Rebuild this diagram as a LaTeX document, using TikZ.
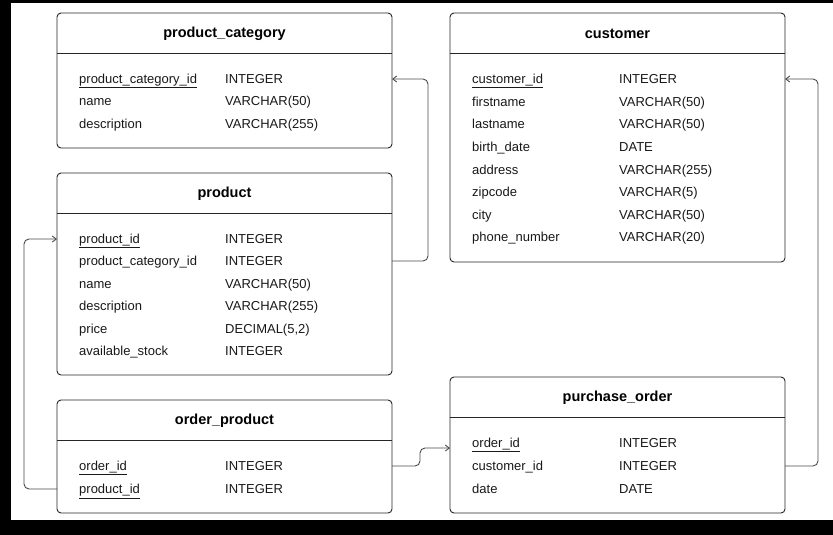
\documentclass[tikz,border=0pt]{standalone}
\usepackage{fontspec}
\setmainfont{Liberation Sans}
\usetikzlibrary{arrows.meta}
\begin{document}
\begin{tikzpicture}[x=1pt,y=-1pt,
  tbl/.style={draw=black!85,line width=0.9pt,rounded corners=4pt,fill=white},
  hdr/.style={font=\fontsize{14.5}{16}\selectfont\bfseries,text=black},
  fld/.style={font=\fontsize{13}{14}\selectfont,text=black!90,anchor=base west,inner sep=0pt,yshift=-4.6pt},
  link/.style={draw=black!70,line width=0.9pt,rounded corners=5pt,-{Straight Barb[length=4pt,width=6pt]}}]
\useasboundingbox (0,0) rectangle (833,535);
\fill[black] (0,0) rectangle (833,535);
\fill[white] (11,3) rectangle (833,520);
\newcommand\mktable[6]{% name, x1,y1,x2,y2, title
  \draw[tbl] (#2,#3) rectangle (#4,#5);
  \draw[black!85,line width=0.9pt] (#2,#3+40) -- (#4,#3+40);
  \node[hdr] (#1t) at ({(#2+#4)/2},#3+21) {#6};
}
% product_category
\mktable{pc}{57}{13}{392}{148}{product\_category}
\node[fld] (pc1) at (79,79) {\underline{product\_category\_id}};
\node[fld] (pc1t) at (225,79) {INTEGER};
\node[fld] (pc2) at (79,101) {name};
\node[fld] (pc2t) at (225,101) {VARCHAR(50)};
\node[fld] (pc3) at (79,124) {description};
\node[fld] (pc3t) at (225,124) {VARCHAR(255)};
% product
\mktable{p}{57}{173}{392}{375}{product}
\node[fld] (p1) at (79,239) {\underline{product\_id}};
\node[fld] (p1t) at (225,239) {INTEGER};
\node[fld] (p2) at (79,261) {product\_category\_id};
\node[fld] (p2t) at (225,261) {INTEGER};
\node[fld] (p3) at (79,284) {name};
\node[fld] (p3t) at (225,284) {VARCHAR(50)};
\node[fld] (p4) at (79,306) {description};
\node[fld] (p4t) at (225,306) {VARCHAR(255)};
\node[fld] (p5) at (79,329) {price};
\node[fld] (p5t) at (225,329) {DECIMAL(5,2)};
\node[fld] (p6) at (79,351) {available\_stock};
\node[fld] (p6t) at (225,351) {INTEGER};
% order_product
\mktable{op}{57}{400}{392}{513}{order\_product}
\node[fld] (op1) at (79,466) {\underline{order\_id}};
\node[fld] (op1t) at (225,466) {INTEGER};
\node[fld] (op2) at (79,489) {\underline{product\_id}};
\node[fld] (op2t) at (225,489) {INTEGER};
% customer
\mktable{c}{450}{13}{785}{262}{customer}
\node[fld] (c1) at (472,79) {\underline{customer\_id}};
\node[fld] (c1t) at (619,79) {INTEGER};
\node[fld] (c2) at (472,101.6) {firstname};
\node[fld] (c2t) at (619,101.6) {VARCHAR(50)};
\node[fld] (c3) at (472,124.2) {lastname};
\node[fld] (c3t) at (619,124.2) {VARCHAR(50)};
\node[fld] (c4) at (472,146.8) {birth\_date};
\node[fld] (c4t) at (619,146.8) {DATE};
\node[fld] (c5) at (472,169.4) {address};
\node[fld] (c5t) at (619,169.4) {VARCHAR(255)};
\node[fld] (c6) at (472,192) {zipcode};
\node[fld] (c6t) at (619,192) {VARCHAR(5)};
\node[fld] (c7) at (472,214.6) {city};
\node[fld] (c7t) at (619,214.6) {VARCHAR(50)};
\node[fld] (c8) at (472,237.2) {phone\_number};
\node[fld] (c8t) at (619,237.2) {VARCHAR(20)};
% purchase_order
\mktable{po}{450}{377}{785}{513}{purchase\_order}
\node[fld] (po1) at (472,443) {\underline{order\_id}};
\node[fld] (po1t) at (619,443) {INTEGER};
\node[fld] (po2) at (472,466) {customer\_id};
\node[fld] (po2t) at (619,466) {INTEGER};
\node[fld] (po3) at (472,489) {date};
\node[fld] (po3t) at (619,489) {DATE};
% connectors
\coordinate (pcin) at (392,79); \coordinate (pout) at (392,261);
\draw[link] (pout) -- (428,261) -- (428,79) -- (pcin);
\coordinate (opl) at (57,489); \coordinate (pin) at (57,239);
\draw[link] (opl) -- (24,489) -- (24,239) -- (pin);
\coordinate (opr) at (392,466); \coordinate (poin) at (450,448);
\draw[link] (opr) -- (420,466) -- (420,448) -- (poin);
\coordinate (por) at (785,466); \coordinate (cin) at (785,79);
\draw[link] (por) -- (818,466) -- (818,79) -- (cin);
\end{tikzpicture}
\end{document}
